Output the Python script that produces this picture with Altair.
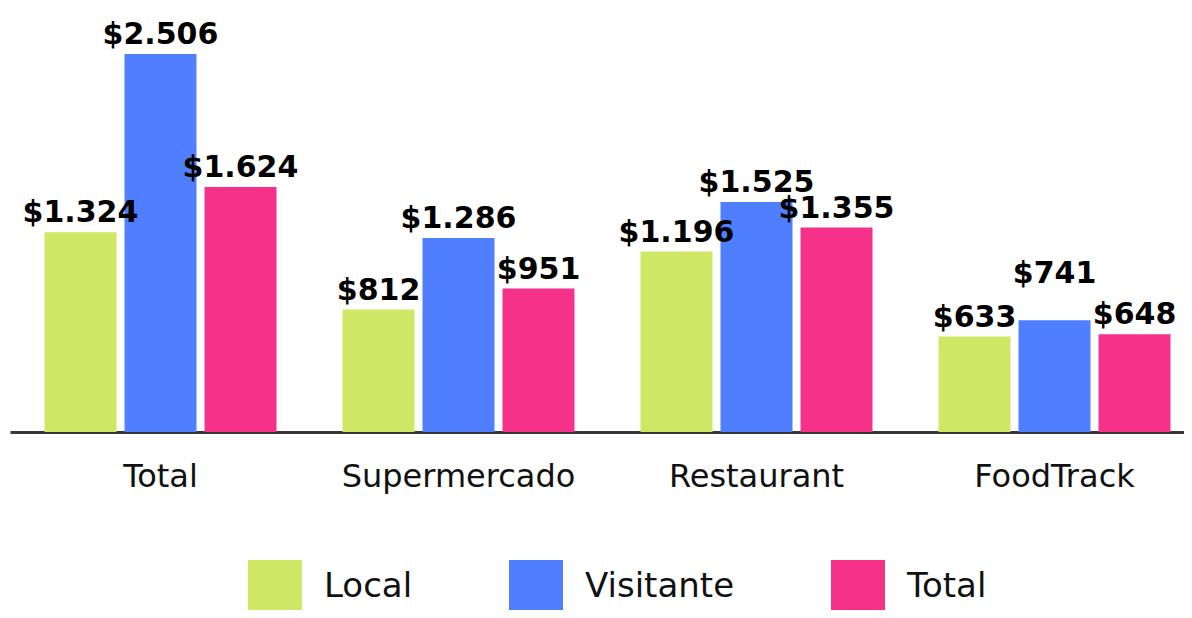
import altair as alt
import pandas as pd

categories = ["Total", "Supermercado", "Restaurant", "FoodTrack"]
series = ["Local", "Visitante", "Total"]
local_vals = [1324, 812, 1196, 633]
visitante_vals = [2506, 1286, 1525, 741]
total_vals = [1624, 951, 1355, 648]
colors = ["#D0E765", "#4F7FFF", "#F5318A"]

rows = []
for i, cat in enumerate(categories):
    for s, vals in zip(series, [local_vals, visitante_vals, total_vals]):
        v = vals[i]
        rows.append({"categoria": cat, "serie": s, "valor": v,
                     "etiqueta": "$" + f"{v:,}".replace(",", ".")})
df = pd.DataFrame(rows)

W = 1174
H = 422

x_enc = alt.X("categoria:N", sort=categories, title=None,
              scale=alt.Scale(paddingInner=0.2215, paddingOuter=0.0805, align=0.719),
              axis=alt.Axis(labelAngle=0, labelFont="DejaVu Sans", labelFontSize=32,
                            labelColor="#111111", labelBaseline="alphabetic",
                            labelPadding=54, ticks=False, tickSize=0, labelLimit=500,
                            domainColor="#383838", domainWidth=3, grid=False))
xoff_enc = alt.XOffset("serie:N", sort=series,
                       scale=alt.Scale(paddingInner=0.1, paddingOuter=0))
y_enc = alt.Y("valor:Q", axis=None, title=None,
              scale=alt.Scale(domain=[0, 2797.7], nice=False, zero=True))

base = alt.Chart(df).encode(x=x_enc, xOffset=xoff_enc, y=y_enc)

bars = base.mark_bar(cornerRadius=0).encode(
    color=alt.Color("serie:N", sort=series,
                    scale=alt.Scale(domain=series, range=colors),
                    legend=alt.Legend(title=None, orient="none", legendX=238, legendY=550,
                                      direction="horizontal", columns=3,
                                      symbolType="square", symbolSize=2916,
                                      symbolStrokeWidth=0, symbolOpacity=1,
                                      labelFont="DejaVu Sans", labelFontSize=34,
                                      labelColor="#111111", labelOffset=22,
                                      columnPadding=96, padding=0, labelLimit=400))
)

lifted = (alt.datum.categoria == "FoodTrack") & (alt.datum.serie == "Visitante")

labels = base.mark_text(font="DejaVu Sans", fontSize=30, fontWeight="bold",
                        color="#000000", baseline="alphabetic", dy=-10).encode(
    text="etiqueta:N"
).transform_filter(~lifted)

labels_up = base.mark_text(font="DejaVu Sans", fontSize=30, fontWeight="bold",
                           color="#000000", baseline="alphabetic", dy=-37).encode(
    text="etiqueta:N"
).transform_filter(lifted)

chart = (bars + labels + labels_up).properties(
    width=W, height=H,
    padding={"left": 2, "top": 2, "right": 0, "bottom": 178},
    autosize=alt.AutoSizeParams(type="none"),
    background="white",
).configure_view(stroke=None)

chart.save("out.html", embed_options={"renderer": "svg", "actions": False})
